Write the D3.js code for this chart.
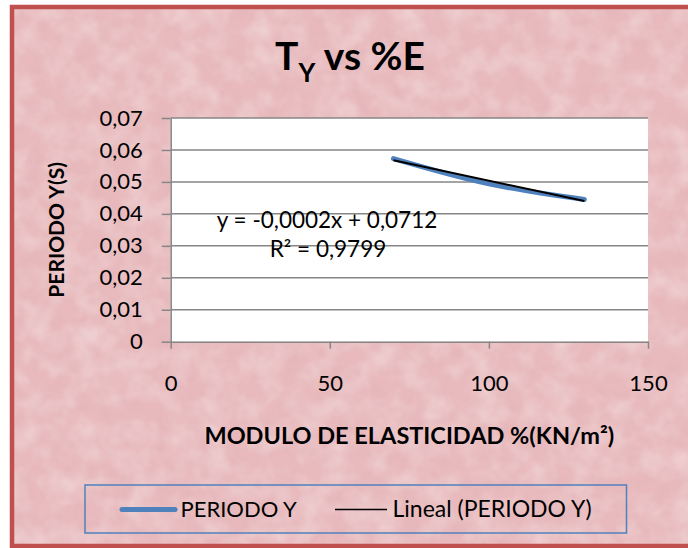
<!DOCTYPE html>
<meta charset="utf-8">
<html>
<head>
    <title>T_Y vs %E</title>
    <script src="https://d3js.org/d3.v7.min.js"></script>
</head>
<style>
    body { margin: 0; background: white; }
    text { font-family: Lato, "Open Sans", sans-serif; fill: black; }
    .axis .domain, .axis line { stroke: #868686; stroke-width: 1.5; }
</style>
<body>
<div id="chartsdiv"></div>
<script>

// data
var moduloE = [70, 100, 130];           // % modulus of elasticity
var periodoY = [0.0573, 0.0494, 0.0445]; // period Y (s)
var xTicks = [0, 50, 100, 150];
var yTicks = [0, 0.01, 0.02, 0.03, 0.04, 0.05, 0.06, 0.07];
var legendNames = ["PERIODO Y", "Lineal (PERIODO Y)"];
var eqLabel = "y = -0,0002x + 0,0712";
var r2Label = "R² = 0,9799";

var width = 688, height = 548;
var plot = {left: 170.7, right: 648, top: 118, bottom: 341.7};

var svg = d3.select("#chartsdiv")
    .append("svg")
        .attr("width", width)
        .attr("height", height);

// pink paper texture
var defs = svg.append("defs");
var f1 = defs.append("filter").attr("id", "light")
    .attr("x", 0).attr("y", 0).attr("width", 1).attr("height", 1);
f1.append("feTurbulence")
    .attr("type", "fractalNoise").attr("baseFrequency", "0.04")
    .attr("numOctaves", 3).attr("seed", 7);
f1.append("feColorMatrix").attr("type", "matrix")
    .attr("values", "0 0 0 0 1  0 0 0 0 1  0 0 0 0 1  0.6 0 0 0 -0.22");
var f2 = defs.append("filter").attr("id", "dark")
    .attr("x", 0).attr("y", 0).attr("width", 1).attr("height", 1);
f2.append("feTurbulence")
    .attr("type", "fractalNoise").attr("baseFrequency", "0.06")
    .attr("numOctaves", 2).attr("seed", 3);
f2.append("feColorMatrix").attr("type", "matrix")
    .attr("values", "0 0 0 0 0.6  0 0 0 0 0.3  0 0 0 0 0.33  0 0.6 0 0 -0.25");

svg.append("rect")
    .attr("x", 12).attr("y", 7).attr("width", 700).attr("height", 539)
    .attr("fill", "#e8babd");
svg.append("rect")
    .attr("x", 12).attr("y", 7).attr("width", 700).attr("height", 539)
    .attr("filter", "url(#light)");
svg.append("rect")
    .attr("x", 12).attr("y", 7).attr("width", 700).attr("height", 539)
    .attr("filter", "url(#dark)").attr("opacity", 0.35);
svg.append("rect")
    .attr("x", 12).attr("y", 7).attr("width", 700).attr("height", 539)
    .attr("fill", "none").attr("stroke", "#c0504d").attr("stroke-width", 4.5);

// title with subscript
var title = svg.append("text")
    .attr("x", 350).attr("y", 70)
    .attr("text-anchor", "middle")
    .style("font-size", "39px").style("font-weight", "bold");
title.append("tspan").text("T");
title.append("tspan").attr("dy", 12).style("font-size", "26px").text("Y");
title.append("tspan").attr("dy", -12).text(" vs %E");

// scales
var x = d3.scaleLinear().domain([0, 150]).range([plot.left, plot.right]);
var y = d3.scaleLinear().domain([0, 0.07]).range([plot.bottom, plot.top]);

var comma = d3.formatLocale({decimal: ",", thousands: ".", grouping: [3], currency: ["", ""]});
var fmtY = function(d) { return d === 0 ? "0" : comma.format(".2f")(d); };

// plot background
svg.append("rect")
    .attr("x", plot.left).attr("y", plot.top)
    .attr("width", plot.right - plot.left).attr("height", plot.bottom - plot.top)
    .attr("fill", "white");

// gridlines
svg.append("g").selectAll("line")
    .data(yTicks.slice(1))
    .enter().append("line")
    .attr("x1", plot.left).attr("x2", plot.right)
    .attr("y1", function(d) { return y(d); })
    .attr("y2", function(d) { return y(d); })
    .attr("stroke", "#868686").attr("stroke-width", 1.5);

// axes
var axisY = svg.append("g")
    .attr("class", "axis")
    .attr("transform", "translate(" + plot.left + ",0)")
    .call(d3.axisLeft(y).tickValues(yTicks).tickFormat(fmtY).tickSize(9).tickPadding(19).tickSizeOuter(0));
axisY.selectAll("text").style("font-size", "22px").style("font-family", "Lato");

var axisX = svg.append("g")
    .attr("class", "axis")
    .attr("transform", "translate(0," + plot.bottom + ")")
    .call(d3.axisBottom(x).tickValues(xTicks).tickFormat(d3.format("d")).tickSize(7).tickPadding(27).tickSizeOuter(0));
axisX.selectAll("text").style("font-size", "22px").style("font-family", "Lato");

// axis titles
svg.append("text")
    .attr("x", (plot.left + plot.right) / 2).attr("y", 443.5)
    .attr("text-anchor", "middle")
    .style("font-size", "23.5px").style("font-weight", "bold")
    .text("MODULO DE ELASTICIDAD %(KN/m²)");

svg.append("text")
    .attr("transform", "translate(64," + ((plot.top + plot.bottom) / 2) + ") rotate(-90)")
    .attr("text-anchor", "middle")
    .style("font-size", "21px").style("font-weight", "bold")
    .text("PERIODO Y(S)");

// data series (smoothed) and linear trend
var series = moduloE.map(function(d, i) { return {x: d, y: periodoY[i]}; });

var mx = d3.mean(moduloE), my = d3.mean(periodoY);
var sxy = d3.sum(series, function(d) { return (d.x - mx) * (d.y - my); });
var sxx = d3.sum(series, function(d) { return (d.x - mx) * (d.x - mx); });
var slope = sxy / sxx, icpt = my - slope * mx;
var xmin = d3.min(moduloE), xmax = d3.max(moduloE);
var trend = [{x: xmin, y: icpt + slope * xmin}, {x: xmax, y: icpt + slope * xmax}];

var line = d3.line()
    .x(function(d) { return x(d.x); })
    .y(function(d) { return y(d.y); });

svg.append("path")
    .datum(series)
    .attr("d", line.curve(d3.curveCatmullRom))
    .attr("fill", "none")
    .attr("stroke", "#4f81bd").attr("stroke-width", 5).attr("stroke-linecap", "round");

svg.append("path")
    .datum(trend)
    .attr("d", d3.line().x(function(d) { return x(d.x); }).y(function(d) { return y(d.y); }))
    .attr("fill", "none")
    .attr("stroke", "black").attr("stroke-width", 2);

// trendline equation
svg.append("text")
    .attr("x", 327).attr("y", 228)
    .attr("text-anchor", "middle")
    .style("font-size", "22.5px")
    .text(eqLabel);
svg.append("text")
    .attr("x", 328).attr("y", 256.5)
    .attr("text-anchor", "middle")
    .style("font-size", "22.5px")
    .text(r2Label);

// legend
var legend = svg.append("g");
legend.append("rect")
    .attr("x", 85).attr("y", 485).attr("width", 541.5).attr("height", 48)
    .attr("fill", "none").attr("stroke", "#4f81bd").attr("stroke-width", 1.5);
legend.append("line")
    .attr("x1", 122).attr("x2", 175).attr("y1", 509.5).attr("y2", 509.5)
    .attr("stroke", "#4f81bd").attr("stroke-width", 5).attr("stroke-linecap", "round");
legend.append("text")
    .attr("x", 180.5).attr("y", 516.7)
    .style("font-size", "22px")
    .text(legendNames[0]);
legend.append("line")
    .attr("x1", 335).attr("x2", 387).attr("y1", 509.5).attr("y2", 509.5)
    .attr("stroke", "black").attr("stroke-width", 1.5);
legend.append("text")
    .attr("x", 392.5).attr("y", 516.7)
    .style("font-size", "23px")
    .text(legendNames[1]);

</script>
</body>
</html>
